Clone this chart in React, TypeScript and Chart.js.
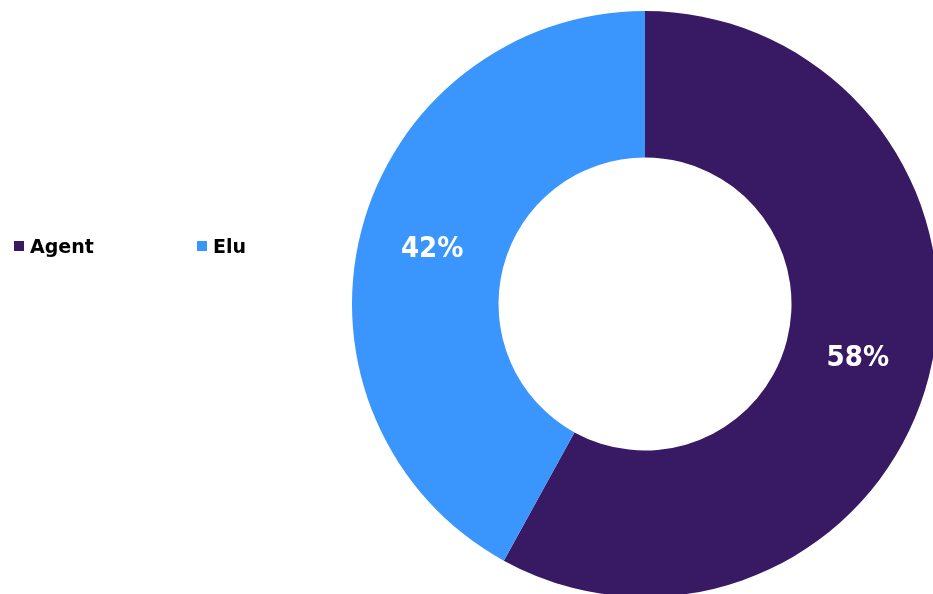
import React, { useEffect, useRef } from "react";
import { Chart, registerables } from "chart.js";

Chart.register(...registerables);

const categories = ["Agent", "Elu"];
const values = [58, 42];
const valueLabels = ["58%", "42%"];
const colors = ["#371a63", "#3a96fd"];

const labelPlugin = {
  id: "sliceLabels",
  afterDatasetsDraw(chart: any) {
    const ctx = chart.ctx;
    const meta = chart.getDatasetMeta(0);
    ctx.save();
    ctx.fillStyle = "#ffffff";
    ctx.font = "bold 29px 'DejaVu Sans Condensed', 'DejaVu Sans'";
    ctx.textAlign = "center";
    ctx.textBaseline = "middle";
    meta.data.forEach((arc: any, i: number) => {
      const p = arc.getProps(["startAngle", "endAngle", "innerRadius", "outerRadius", "x", "y"], true);
      const a = (p.startAngle + p.endAngle) / 2;
      const r = (p.innerRadius + p.outerRadius) / 2;
      ctx.fillText(valueLabels[i], p.x + Math.cos(a) * r, p.y + Math.sin(a) * r);
    });
    ctx.restore();
  },
};

export default function App() {
  const ref = useRef<HTMLCanvasElement>(null);
  useEffect(() => {
    if (!ref.current) return;
    const chart = new Chart(ref.current, {
      type: "doughnut",
      data: {
        labels: categories,
        datasets: [
          {
            data: values,
            backgroundColor: colors,
            borderWidth: 0,
          },
        ],
      },
      options: {
        responsive: false,
        animation: false,
        cutout: "50%",
        layout: { padding: { left: 352, top: 11, right: 2, bottom: 3 } },
        plugins: {
          legend: { display: false },
          tooltip: { enabled: false },
        },
      },
      plugins: [labelPlugin],
    });
    return () => chart.destroy();
  }, []);

  const legendItem = (i: number, left: number) => (
    <div
      key={i}
      style={{
        position: "absolute",
        left,
        top: 234,
        height: 24,
        display: "flex",
        alignItems: "center",
        fontFamily: "'DejaVu Sans', sans-serif",
        fontWeight: "bold",
        fontSize: 19,
        color: "#000",
      }}
    >
      <span
        style={{
          display: "inline-block",
          width: 10,
          height: 10,
          background: colors[i],
          marginRight: 6,
        }}
      />
      {categories[i]}
    </div>
  );

  return (
    <div
      style={{
        position: "fixed",
        left: 0,
        top: 0,
        width: 933,
        height: 594,
        overflow: "hidden",
        background: "#fff",
      }}
    >
      <canvas
        ref={ref}
        width={940}
        height={600}
        style={{ position: "absolute", left: 0, top: 0, width: 940, height: 600 }}
      />
      {legendItem(0, 14)}
      {legendItem(1, 197)}
    </div>
  );
}
